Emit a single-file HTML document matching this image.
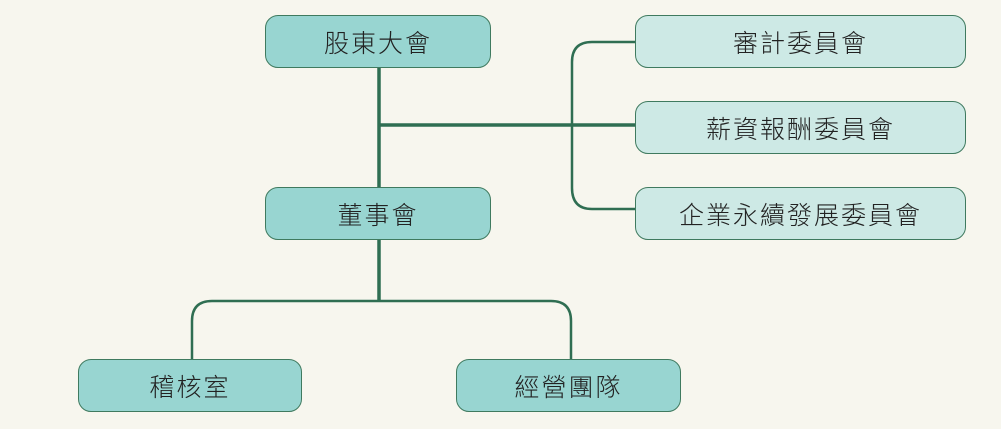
<!DOCTYPE html>
<html><head><meta charset="utf-8"><style>
body{margin:0;width:1001px;height:429px;background:#f7f6ee;position:relative;overflow:hidden;font-family:"Liberation Sans","Noto Sans CJK TC",sans-serif}
.b{position:absolute;box-sizing:border-box;border:1.5px solid #3f7a5f;border-radius:13px;display:flex;align-items:center;justify-content:center;font-size:25px;font-weight:300;color:#222;letter-spacing:2px}
.d{background:#98d5d1}.l{background:#cde9e5}
</style></head><body>
<svg width="1001" height="429" style="position:absolute;left:0;top:0">
<g fill="none" stroke="#2f6e52">
<path d="M379 67V301M379 125H636M379 239V301" stroke-width="3.5"/>
<path d="M636 42H592Q572 42 572 62V188Q572 209 592 209H636" stroke-width="2.5"/>
<path d="M379 301H212Q192 301 192 321V360M379 301H551Q571 301 571 321V360" stroke-width="2.5"/>
</g></svg>
<div class="b d" style="left:265px;top:15px;width:226px;height:53px">股東大會</div>
<div class="b d" style="left:265px;top:187px;width:226px;height:53px">董事會</div>
<div class="b l" style="left:635px;top:15px;width:331px;height:53px">審計委員會</div>
<div class="b l" style="left:635px;top:101px;width:331px;height:53px">薪資報酬委員會</div>
<div class="b l" style="left:635px;top:187px;width:331px;height:53px">企業永續發展委員會</div>
<div class="b d" style="left:78px;top:359px;width:224px;height:53px">稽核室</div>
<div class="b d" style="left:456px;top:359px;width:225px;height:53px">經營團隊</div>
</body></html>
